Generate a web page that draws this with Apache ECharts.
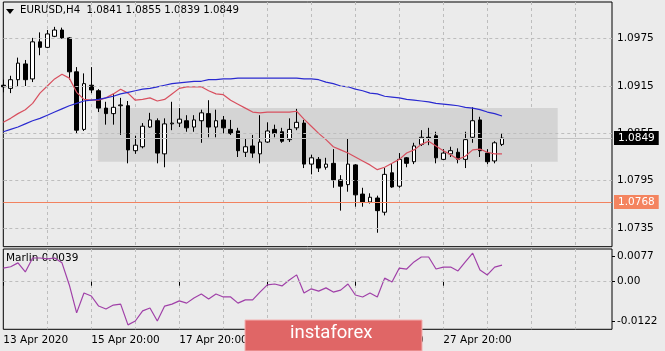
<!DOCTYPE html>
<html>
<head>
<meta charset="utf-8">
<script src="https://cdn.jsdelivr.net/npm/echarts@6/dist/echarts.min.js"></script>
<style>
html,body{margin:0;padding:0;background:#ebebeb;}
#chart{width:665px;height:351px;}
</style>
</head>
<body>
<div id="chart"></div>
<script>
// EURUSD H4 свечи: [open, close, low, high]
const candles = [
    [1.0916, 1.0914, 1.0907, 1.0923], [1.0912, 1.0923, 1.0906, 1.0928], [1.0923, 1.0944, 1.0915, 1.0951],
    [1.0943, 1.0923, 1.0915, 1.0948], [1.0924, 1.0971, 1.0920, 1.0976], [1.0971, 1.0964, 1.0954, 1.0983],
    [1.0964, 1.0981, 1.0963, 1.0986], [1.0978, 1.0986, 1.0977, 1.0990], [1.0986, 1.0976, 1.0975, 1.0989],
    [1.0976, 1.0933, 1.0923, 1.0977], [1.0933, 1.0859, 1.0855, 1.0939], [1.0860, 1.0918, 1.0858, 1.0931],
    [1.0916, 1.0910, 1.0906, 1.0939], [1.0909, 1.0887, 1.0882, 1.0911], [1.0887, 1.0880, 1.0866, 1.0895],
    [1.0880, 1.0888, 1.0866, 1.0905], [1.0890, 1.0891, 1.0853, 1.0900], [1.0890, 1.0834, 1.0817, 1.0896],
    [1.0833, 1.0840, 1.0829, 1.0852], [1.0838, 1.0864, 1.0836, 1.0868], [1.0863, 1.0872, 1.0862, 1.0881],
    [1.0871, 1.0830, 1.0817, 1.0874], [1.0829, 1.0867, 1.0812, 1.0874], [1.0867, 1.0868, 1.0859, 1.0895],
    [1.0868, 1.0873, 1.0863, 1.0887], [1.0871, 1.0862, 1.0857, 1.0878], [1.0863, 1.0872, 1.0857, 1.0878],
    [1.0871, 1.0881, 1.0843, 1.0885], [1.0880, 1.0863, 1.0850, 1.0897], [1.0863, 1.0871, 1.0850, 1.0885],
    [1.0872, 1.0862, 1.0855, 1.0877], [1.0860, 1.0855, 1.0853, 1.0872], [1.0858, 1.0833, 1.0825, 1.0862],
    [1.0831, 1.0838, 1.0825, 1.0848], [1.0839, 1.0830, 1.0824, 1.0853], [1.0829, 1.0844, 1.0817, 1.0878],
    [1.0844, 1.0858, 1.0843, 1.0869], [1.0860, 1.0855, 1.0850, 1.0866], [1.0857, 1.0845, 1.0843, 1.0862],
    [1.0847, 1.0860, 1.0844, 1.0874], [1.0862, 1.0869, 1.0859, 1.0886], [1.0868, 1.0816, 1.0811, 1.0872],
    [1.0816, 1.0824, 1.0803, 1.0828], [1.0822, 1.0811, 1.0806, 1.0825], [1.0812, 1.0816, 1.0809, 1.0824],
    [1.0817, 1.0796, 1.0786, 1.0835], [1.0796, 1.0788, 1.0757, 1.0802], [1.0790, 1.0816, 1.0781, 1.0848],
    [1.0815, 1.0777, 1.0762, 1.0816], [1.0778, 1.0768, 1.0762, 1.0786], [1.0768, 1.0774, 1.0766, 1.0779],
    [1.0773, 1.0757, 1.0729, 1.0776], [1.0755, 1.0803, 1.0751, 1.0811], [1.0805, 1.0787, 1.0786, 1.0816],
    [1.0788, 1.0822, 1.0786, 1.0830], [1.0824, 1.0817, 1.0812, 1.0825], [1.0819, 1.0839, 1.0816, 1.0843],
    [1.0841, 1.0850, 1.0839, 1.0859], [1.0850, 1.0849, 1.0840, 1.0862], [1.0852, 1.0824, 1.0817, 1.0857],
    [1.0822, 1.0830, 1.0821, 1.0835], [1.0829, 1.0833, 1.0825, 1.0838], [1.0831, 1.0822, 1.0817, 1.0836],
    [1.0822, 1.0847, 1.0811, 1.0857], [1.0850, 1.0871, 1.0843, 1.0888], [1.0872, 1.0833, 1.0825, 1.0876],
    [1.0830, 1.0819, 1.0816, 1.0835], [1.0820, 1.0843, 1.0817, 1.0845], [1.0841, 1.0849, 1.0839, 1.0855]
];

// красная (быстрая) скользящая
const maFast = [
    1.0869, 1.0874, 1.0880, 1.0885, 1.0893, 1.0906, 1.0915, 1.0924, 1.0930, 1.0925,
    1.0907, 1.0898, 1.0897, 1.0897, 1.0900, 1.0905, 1.0911, 1.0906, 1.0897, 1.0898,
    1.0900, 1.0896, 1.0898, 1.0905, 1.0912, 1.0914, 1.0914, 1.0914, 1.0909, 1.0905,
    1.0904, 1.0897, 1.0892, 1.0887, 1.0882, 1.0881, 1.0882, 1.0882, 1.0882, 1.0882,
    1.0883, 1.0873, 1.0864, 1.0855, 1.0847, 1.0838, 1.0834, 1.0830, 1.0825, 1.0820,
    1.0815, 1.0809, 1.0812, 1.0817, 1.0822, 1.0830, 1.0834, 1.0841, 1.0845, 1.0839,
    1.0833, 1.0828, 1.0822, 1.0826, 1.0834, 1.0835, 1.0831, 1.0829, 1.0829
];

// синяя (медленная) скользящая
const maSlow = [
    1.0857, 1.0860, 1.0863, 1.0867, 1.0871, 1.0874, 1.0878, 1.0882, 1.0886, 1.0890,
    1.0893, 1.0896, 1.0897, 1.0898, 1.0900, 1.0902, 1.0905, 1.0907, 1.0909, 1.0911,
    1.0912, 1.0914, 1.0916, 1.0918, 1.0919, 1.0920, 1.0921, 1.0921, 1.0923, 1.0923,
    1.0924, 1.0924, 1.0925, 1.0925, 1.0925, 1.0925, 1.0925, 1.0925, 1.0925, 1.0925,
    1.0925, 1.0924, 1.0924, 1.0923, 1.0920, 1.0918, 1.0915, 1.0914, 1.0911, 1.0909,
    1.0906, 1.0905, 1.0902, 1.0901, 1.0900, 1.0898, 1.0897, 1.0896, 1.0895, 1.0893,
    1.0892, 1.0891, 1.0890, 1.0888, 1.0887, 1.0885, 1.0882, 1.0880, 1.0877
];

// индикатор Marlin
const marlin = [
    0.0042, 0.0046, 0.0058, 0.0030, 0.0073, 0.0073, 0.0070, 0.0073, 0.0058, -0.0010,
    -0.0096, -0.0035, -0.0044, -0.0075, -0.0084, -0.0072, -0.0069, -0.0133, -0.0121, -0.0090,
    -0.0081, -0.0121, -0.0075, -0.0069, -0.0059, -0.0066, -0.0050, -0.0038, -0.0053, -0.0038,
    -0.0047, -0.0047, -0.0066, -0.0056, -0.0056, -0.0032, -0.0010, -0.0007, -0.0013, 0.0005,
    0.0021, -0.0035, -0.0022, -0.0029, -0.0019, -0.0032, -0.0026, -0.0007, -0.0041, -0.0047,
    -0.0035, -0.0047, 0.0011, -0.0001, 0.0042, 0.0039, 0.0061, 0.0076, 0.0076, 0.0039,
    0.0045, 0.0045, 0.0033, 0.0061, 0.0088, 0.0036, 0.0021, 0.0045, 0.0051
];

const priceTicks = [1.0975, 1.0915, 1.0855, 1.0795, 1.0735];
const marlinTicks = [0.0077, 0, -0.0122];
const timeLabels = {
    0: '13 Apr 2020', 12: '15 Apr 20:00', 24: '17 Apr 20:00',
    36: '21 Apr 20:00', 48: '23 Apr 20:00', 60: '27 Apr 20:00'
};
const slotCount = 84;
const rangeBox = [12.9, 75.6, 1.0887, 1.0819];
const supportLevel = 1.0768;
const lastPrice = 1.0849;

let slots = Array.from({length: slotCount}, (v, i) => String(i));

let font = 'DejaVu Sans';
let gridDash = {color: '#bdbdbd', type: [3, 3], width: 1};

let chart = echarts.init(document.getElementById('chart'));

// ценник справа от горизонтального уровня
function priceTag(value, bg) {
    return {
        show: true, position: 'end', distance: 2, formatter: value.toFixed(4),
        color: '#fff', backgroundColor: bg, padding: [2, 4, 1, 4], fontSize: 10.5, fontFamily: font
    };
}

let option = {
    animation: false,
    backgroundColor: '#ebebeb',
    textStyle: {fontFamily: font},
    grid: [
        {left: 3.3, right: 53, top: 2, bottom: 104.3, show: true, borderColor: '#000', borderWidth: 1},
        {left: 3.3, right: 53, top: 249, bottom: 21.7, show: true, borderColor: '#000', borderWidth: 1}
    ],
    xAxis: [
        {
            type: 'category', gridIndex: 0, data: slots, boundaryGap: false,
            axisLine: {show: false}, axisTick: {show: false}, axisLabel: {show: false},
            splitLine: {show: true, interval: (i) => i > 0 && i % 6 === 0, lineStyle: gridDash}
        },
        {
            type: 'category', gridIndex: 1, data: slots, boundaryGap: false,
            axisLine: {show: false},
            axisTick: {show: true, interval: (i) => timeLabels[i] !== undefined, length: 4, lineStyle: {color: '#000'}},
            axisLabel: {
                interval: (i) => timeLabels[i] !== undefined,
                formatter: (v) => timeLabels[v],
                align: 'left', margin: 5, color: '#000', fontSize: 10.5, fontFamily: font
            },
            splitLine: {show: true, interval: (i) => i > 0 && i % 6 === 0, lineStyle: gridDash}
        },
        {type: 'value', gridIndex: 0, min: 0, max: slotCount - 1, show: false}
    ],
    yAxis: [
        {
            type: 'value', gridIndex: 0, position: 'right',
            min: 1.07113, max: 1.10215,
            splitLine: {show: false}, axisLine: {show: false},
            axisTick: {show: true, customValues: priceTicks, length: 3, lineStyle: {color: '#000'}},
            axisLabel: {customValues: priceTicks, formatter: (v) => v.toFixed(4), margin: 5, color: '#000', fontSize: 10.5, fontFamily: font}
        },
        {
            type: 'value', gridIndex: 1, position: 'right',
            min: -0.01466, max: 0.01007,
            splitLine: {show: false}, axisLine: {show: false},
            axisTick: {show: true, customValues: marlinTicks, length: 3, lineStyle: {color: '#000'}},
            axisLabel: {
                customValues: marlinTicks,
                formatter: (v) => v === 0 ? '0.00' : v.toFixed(4),
                margin: 5, color: '#000', fontSize: 10.5, fontFamily: font
            }
        }
    ],
    series: [
        {
            // сетка по ценам, серый прямоугольник диапазона и уровни
            type: 'line', xAxisIndex: 2, yAxisIndex: 0, z: 1, data: [],
            markArea: {
                silent: true,
                itemStyle: {color: '#d4d4d4'},
                data: [[{xAxis: rangeBox[0], yAxis: rangeBox[2]}, {xAxis: rangeBox[1], yAxis: rangeBox[3]}]]
            },
            markLine: {
                silent: true, symbol: ['none', 'none'], precision: 5,
                data: priceTicks.map((v) => ({yAxis: v, lineStyle: gridDash, label: {show: false}})).concat([
                    {yAxis: lastPrice, lineStyle: {color: '#c4c4c4', type: 'solid', width: 1}, label: priceTag(lastPrice, '#000')},
                    {yAxis: supportLevel, lineStyle: {color: '#f2825f', type: 'solid', width: 1}, label: priceTag(supportLevel, '#f4845f')}
                ])
            }
        },
        {
            type: 'candlestick', xAxisIndex: 0, yAxisIndex: 0, z: 3,
            data: candles, barWidth: 4,
            itemStyle: {color: '#fff', color0: '#000', borderColor: '#000', borderColor0: '#000', borderWidth: 1}
        },
        {
            type: 'line', xAxisIndex: 0, yAxisIndex: 0, z: 4, data: maFast,
            showSymbol: false, lineStyle: {color: '#d8505f', width: 1.2}
        },
        {
            type: 'line', xAxisIndex: 0, yAxisIndex: 0, z: 4, data: maSlow,
            showSymbol: false, lineStyle: {color: '#2a2ad0', width: 1.2}
        },
        {
            type: 'line', xAxisIndex: 1, yAxisIndex: 1, z: 4, data: marlin,
            showSymbol: false, lineStyle: {color: '#a040a8', width: 1.2},
            markLine: {silent: true, symbol: ['none', 'none'], precision: 5, label: {show: false}, data: [{yAxis: 0, lineStyle: gridDash}]}
        }
    ],
    graphic: [
        {type: 'polygon', shape: {points: [[6, 9], [14, 9], [10, 14]]}, style: {fill: '#000'}},
        {type: 'text', left: 20, top: 5, style: {text: 'EURUSD,H4  1.0841 1.0855 1.0839 1.0849', font: '10.2px "DejaVu Sans"', fill: '#000'}},
        {type: 'text', left: 6, top: 253, style: {text: 'Marlin 0.0039', font: '10.5px "DejaVu Sans"', fill: '#000'}},
        {type: 'rect', z: 10, shape: {x: 245, y: 320, width: 177, height: 31}, style: {fill: '#e06666', stroke: '#f3b0b0', lineWidth: 1}},
        {type: 'text', z: 11, left: 290, top: 324, style: {text: 'instaforex', font: '18.5px Roboto', fill: '#fff'}}
    ]
};

chart.setOption(option);
</script>
</body>
</html>
